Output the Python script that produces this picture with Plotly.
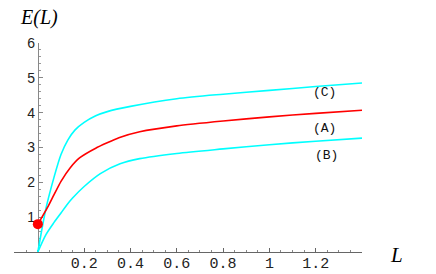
import plotly.graph_objects as go

# Data
L_C = [0, 0.035, 0.07, 0.1, 0.13, 0.16, 0.2, 0.25, 0.3, 0.4, 0.6, 0.8, 1.0, 1.2, 1.4]
E_C = [0, 1.25, 2.15, 2.8, 3.22, 3.5, 3.72, 3.91, 4.03, 4.18, 4.4, 4.53, 4.64, 4.75, 4.85]

L_A = [0, 0.045, 0.07, 0.1, 0.14, 0.18, 0.25, 0.35, 0.44, 0.6, 0.8, 1.0, 1.2, 1.4]
E_A = [0.8, 1.32, 1.65, 2.03, 2.42, 2.7, 2.98, 3.28, 3.45, 3.62, 3.76, 3.88, 3.98, 4.07]

L_B = [0, 0.035, 0.07, 0.1, 0.125, 0.15, 0.2, 0.27, 0.355, 0.44, 0.6, 0.8, 1.0, 1.2, 1.4]
E_B = [0, 0.5, 0.85, 1.12, 1.35, 1.55, 1.88, 2.25, 2.53, 2.68, 2.83, 2.96, 3.08, 3.18, 3.27]

dot_L = [0]
dot_E = [0.8]

labels = ["(C)", "(A)", "(B)"]
label_L = [1.24, 1.24, 1.245]
label_E = [4.57, 3.54, 2.77]

x_tickvals = [0.2, 0.4, 0.6, 0.8, 1.0, 1.2]
x_ticktext = ["0.2", "0.4", "0.6", "0.8", "1", "1.2"]
y_tickvals = [1, 2, 3, 4, 5, 6]

CYAN = "#00FFFF"
RED = "#FF0000"

fig = go.Figure()
fig.add_trace(go.Scatter(x=L_C, y=E_C, mode="lines",
                         line=dict(color=CYAN, width=1.6, shape="spline", smoothing=0.8)))
fig.add_trace(go.Scatter(x=L_B, y=E_B, mode="lines",
                         line=dict(color=CYAN, width=1.6, shape="spline", smoothing=0.8)))
fig.add_trace(go.Scatter(x=L_A, y=E_A, mode="lines",
                         line=dict(color=RED, width=1.6, shape="spline", smoothing=0.45)))
fig.add_trace(go.Scatter(x=dot_L, y=dot_E, mode="markers",
                         marker=dict(color=RED, size=10), cliponaxis=False))

for t, lx, ly in zip(labels, label_L, label_E):
    fig.add_annotation(x=lx, y=ly, text=t, showarrow=False,
                       xanchor="center", yanchor="middle",
                       font=dict(family="Liberation Mono", size=13, color="#111"))

fig.add_annotation(xref="paper", yref="paper", x=0.0115, y=1.124, text="<i>E(L)</i>",
                   xanchor="left", yanchor="middle",
                   showarrow=False, font=dict(family="Liberation Serif", size=20, color="black"))
fig.add_annotation(xref="paper", yref="paper", x=1.098, y=-0.014, text="<i>L</i>",
                   xanchor="center", yanchor="middle",
                   showarrow=False, font=dict(family="Liberation Serif", size=21, color="black"))

fig.update_layout(
    width=436, height=274,
    margin=dict(l=14, r=74, t=43, b=22, autoexpand=False),
    paper_bgcolor="white", plot_bgcolor="white",
    showlegend=False,
    xaxis=dict(range=[-0.103, 1.40], showgrid=False, zeroline=False, automargin=False,
               showline=True, linecolor="#666", linewidth=1, layer="below traces",
               tickvals=x_tickvals, ticktext=x_ticktext,
               ticks="inside", ticklen=4, tickcolor="#666",
               ticklabelstandoff=-3,
               minor=dict(dtick=0.05, tick0=0, ticks="inside", ticklen=2, tickcolor="#888"),
               tickfont=dict(family="Liberation Mono", size=15, color="#222")),
    yaxis=dict(range=[0, 6], showgrid=False, zeroline=False, automargin=False,
               anchor="free", position=0.0684, layer="below traces",
               showline=True, linecolor="#888", linewidth=1,
               tickvals=y_tickvals,
               ticks="inside", ticklen=4, tickcolor="#888",
               minor=dict(dtick=0.2, tick0=0, ticks="inside", ticklen=2, tickcolor="#999"),
               tickfont=dict(family="Liberation Sans", size=14, color="#222")),
)

fig.write_html("out.html", config={"displayModeBar": False},
               post_script="document.body.style.margin='0';document.body.style.overflow='hidden';")
